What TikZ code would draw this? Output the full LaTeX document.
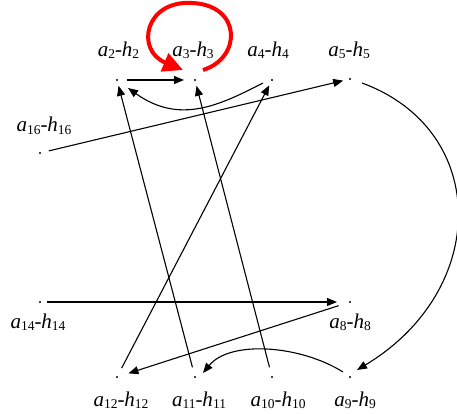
\documentclass[tikz,border=0pt]{standalone}
\usepackage{fontspec}
\setmainfont{Liberation Serif}
\usetikzlibrary{arrows.meta,calc}
\newcommand\subd[1]{{\fontsize{13.5}{14}\selectfont\raisebox{-2pt}{#1}}}
\newcommand\ahl[1]{\textit{a}\subd{#1}-\textit{h}\subd{#1}}
\begin{document}
\begin{tikzpicture}[x=1pt,y=-1pt,
  lab/.style={anchor=base,inner sep=0pt,font=\fontsize{21}{24}\selectfont},
  arr/.style={line width=1.1pt,-{Triangle[length=10pt,width=8pt]}},
  redarr/.style={draw=red,line width=4pt,-{Triangle[length=20pt,width=19pt]}}]
\useasboundingbox (0,0) rectangle (457,414);
% points
\coordinate (p2) at (117,80);
\coordinate (p3) at (195,80);
\coordinate (p4) at (272,80);
\coordinate (p5) at (350,79);
\coordinate (p16) at (40,153);
\coordinate (p14) at (40,302);
\coordinate (p8) at (350,302);
\coordinate (p12) at (117,377);
\coordinate (p11) at (195,377);
\coordinate (p10) at (272,377);
\coordinate (p9) at (350,377);
\foreach \p in {p2,p3,p4,p5,p16,p14,p8,p12,p11,p10,p9}
  \fill (\p) circle (1.2);
% labels
\node[lab] (l2) at (118.5,57) {\ahl{2}};
\node[lab] (l3) at (193,57) {\ahl{3}};
\node[lab] (l4) at (268,57) {\ahl{4}};
\node[lab] (l5) at (349,57) {\ahl{5}};
\node[lab] (l16) at (44,132) {\ahl{16}};
\node[lab] (l14) at (38,328) {\ahl{14}};
\node[lab] (l8) at (350,328) {\ahl{8}};
\node[lab] (l12) at (121,406) {\ahl{12}};
\node[lab] (l11) at (199,406) {\ahl{11}};
\node[lab] (l10) at (278,406) {\ahl{10}};
\node[lab] (l9) at (355,406) {\ahl{9}};
% connectors
\draw[arr,shorten <=10pt,shorten >=11pt] (p2) -- (p3);
\draw[redarr] ($(p3)+(8,-10)$) .. controls (242,58) and (242,5) .. (192,3)
   .. controls (145,0) and (135,50) .. ($(p3)+(-12,-10)$);
\draw[arr] ($(p4)+(-9,3)$) .. controls (220,105) and (180,125) .. ($(p2)+(11,8)$);
\draw[arr,shorten <=9pt,shorten >=7pt] (p16) -- (p5);
\draw[arr] ($(p5)+(12,4)$) .. controls (490,130) and (490,290) .. ($(p9)+(7,-7)$);
\draw[arr,shorten <=10pt,shorten >=6pt] (p11) -- (p2);
\draw[arr,shorten <=10pt,shorten >=6pt] (p10) -- (p3);
\draw[arr,shorten <=10pt,shorten >=6pt] (p12) -- (p4);
\draw[arr,shorten <=7pt,shorten >=13pt] (p14) -- (p8);
\draw[arr,shorten <=12pt,shorten >=12pt] (p8) -- (p12);
\draw[arr] ($(p9)+(-7,-5)$) .. controls (300,345) and (230,340) .. ($(p11)+(8,-4)$);
\end{tikzpicture}
\end{document}
